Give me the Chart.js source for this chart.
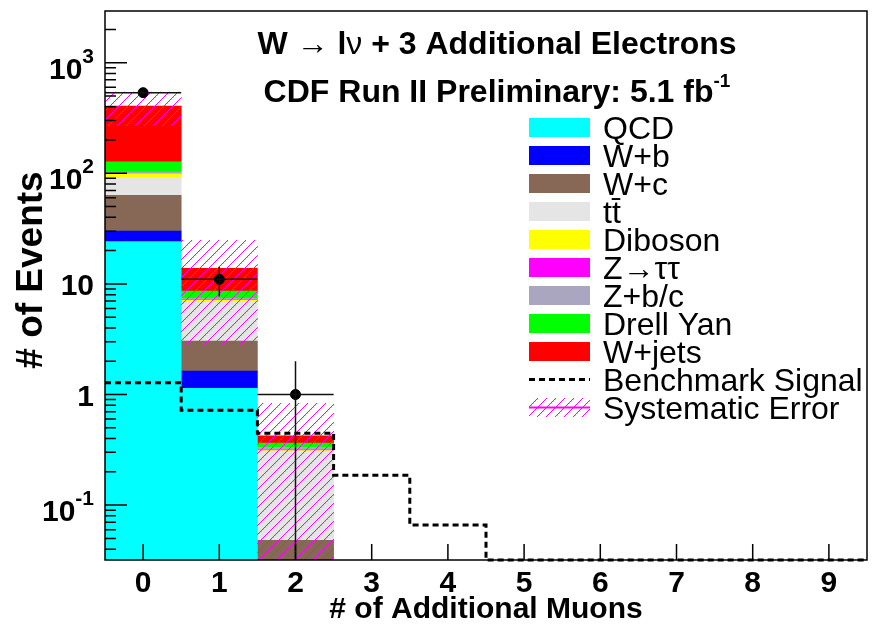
<!DOCTYPE html>
<html>
<head>
<meta charset="utf-8">
<script src="https://cdn.jsdelivr.net/npm/chart.js@4.4.1/dist/chart.umd.min.js"></script>
<style>
  html, body { margin: 0; padding: 0; background: #fff; }
  #wrap { width: 873px; height: 628px; }
</style>
</head>
<body>
<div id="wrap"><canvas id="muonChart" width="873" height="628"></canvas></div>
<script>
// bins of the x axis (number of additional muons)
const bins = [0, 1, 2, 3, 4, 5, 6, 7, 8, 9];

// stacked backgrounds, only bins 0..2 are filled
const stackBins = [0, 1, 2];
const qcd      = [24.1, 1.14, 0];
const wPlusB   = [6.0, 0.49, 0];
const wPlusC   = [33.2, 1.41, 0.048];
const ttbar    = [28.0, 3.77, 0.26];
const diboson  = [7.9, 0.29, 0.004];
const zTauTau  = [0.5, 0.05, 0.002];
const zPlusBC  = [3.0, 0.25, 0.018];
const drellYan = [24.6, 1.22, 0.032];
const wJets    = [278.7, 5.21, 0.059];
const systErr  = [136, 11, 0.41];

// benchmark signal (dashed step line)
const benchmark = [1.28, 0.72, 0.446, 0.186, 0.066, 0, 0, 0, 0, 0];

// observed data
const dataBins   = [0, 1, 2];
const dataCounts = [536, 11, 1];
const dataErr    = [23.2, 3.3, 1.0];

// axis ticks: value, base text, exponent text
const yTicks = [0.1, 1, 10, 100, 1000];
const yTickBase = ['10', '1', '10', '10', '10'];
const yTickExp  = ['-1', '', '', '2', '3'];
const yMin = 0.0319, yMax = 2934;

const FONT = '"Liberation Sans", Arial, "DejaVu Sans", sans-serif';

const stackDefs = [
  ['QCD', qcd, '#00ffff'],
  ['W+b', wPlusB, '#0000ff'],
  ['W+c', wPlusC, '#876756'],
  ['tt\u0304', ttbar, '#e5e5e5'],
  ['Diboson', diboson, '#ffff00'],
  ['Z\u2192\u03C4\u03C4', zTauTau, '#ff00ff'],
  ['Z+b/c', zPlusBC, '#aaa6c0'],
  ['Drell Yan', drellYan, '#00ff00'],
  ['W+jets', wJets, '#ff0000']
];

function makeHatch() {
  const c = document.createElement('canvas');
  c.width = 9; c.height = 9;
  const g = c.getContext('2d');
  g.strokeStyle = '#ff00ff';
  g.lineWidth = 1;
  g.beginPath();
  g.moveTo(0, 9); g.lineTo(9, 0);
  g.moveTo(-1, 1); g.lineTo(1, -1);
  g.moveTo(8, 10); g.lineTo(10, 8);
  g.stroke();
  return g.createPattern(c, 'repeat');
}
const hatch = makeHatch();

// totals of the stack, used for the error band
const totals = stackBins.map((b, i) => stackDefs.reduce((s, d) => s + d[1][i], 0));

const datasets = stackDefs.map(([label, vals, color], k) => ({
  type: 'bar',
  label: label,
  data: stackBins.map((b, i) => ({ x: b, y: vals[i] })),
  backgroundColor: color,
  borderWidth: 0,
  barPercentage: 1,
  categoryPercentage: 1,
  stack: 'mc',
  order: 10 + k
}));

datasets.push({
  type: 'bar',
  label: 'Systematic Error',
  data: stackBins.map((b, i) => ({ x: b, y: [totals[i] - systErr[i], totals[i] + systErr[i]] })),
  backgroundColor: hatch,
  borderWidth: 0,
  barPercentage: 1,
  categoryPercentage: 1,
  grouped: false,
  stack: 'err',
  order: 3
});

// empty bins sit on the bottom of the log axis, as in the original plot
datasets.push({
  type: 'line',
  label: 'Benchmark Signal',
  data: bins.map((b, i) => ({ x: b - 0.5, y: Math.max(benchmark[i], yMin) }))
            .concat([{ x: bins[bins.length - 1] + 0.5, y: Math.max(benchmark[benchmark.length - 1], yMin) }]),
  stepped: true,
  borderColor: '#000',
  borderWidth: 3,
  borderDash: [6, 4],
  pointRadius: 0,
  fill: false,
  clip: false,
  order: 2
});

datasets.push({
  type: 'scatter',
  label: 'Data',
  data: dataBins.map((b, i) => ({ x: b, y: dataCounts[i] })),
  pointRadius: 5,
  pointBackgroundColor: '#000',
  pointBorderColor: '#000',
  order: 0
});

function drawRuns(ctx, runs, cx, baseline, align) {
  let w = 0;
  runs.forEach(r => { ctx.font = r.font; w += ctx.measureText(r.text).width; });
  let px = align === 'right' ? cx - w : cx - w / 2;
  runs.forEach(r => {
    ctx.font = r.font;
    ctx.fillText(r.text, px, baseline + (r.dy || 0));
    px += ctx.measureText(r.text).width;
  });
}

// error bars, frame, inner ticks, texts and legend
const decorPlugin = {
  id: 'decor',
  afterDatasetsDraw(chart) {
    const { ctx, chartArea: a, scales: { x, y } } = chart;
    ctx.save();
    ctx.beginPath();
    ctx.rect(a.left, a.top, a.right - a.left, a.bottom - a.top);
    ctx.clip();
    ctx.strokeStyle = '#111';
    ctx.lineWidth = 1.5;
    dataBins.forEach((b, i) => {
      const py = y.getPixelForValue(dataCounts[i]);
      const lo = dataCounts[i] - dataErr[i];
      ctx.beginPath();
      ctx.moveTo(x.getPixelForValue(b - 0.5), py);
      ctx.lineTo(x.getPixelForValue(b + 0.5), py);
      ctx.moveTo(x.getPixelForValue(b), y.getPixelForValue(dataCounts[i] + dataErr[i]));
      ctx.lineTo(x.getPixelForValue(b), lo > 0 ? y.getPixelForValue(lo) : a.bottom);
      ctx.stroke();
    });
    ctx.restore();
  },
  afterDraw(chart) {
    const { ctx, chartArea: a, scales: { x, y } } = chart;
    ctx.save();
    // ticks on the inside of the frame
    ctx.strokeStyle = '#000';
    ctx.lineWidth = 1.5;
    ctx.beginPath();
    for (let d = -2; d <= 3; d++) {
      for (let m = 1; m <= 9; m++) {
        const v = m * Math.pow(10, d);
        if (v < yMin || v > yMax) continue;
        const py = y.getPixelForValue(v);
        ctx.moveTo(a.left, py);
        ctx.lineTo(a.left + (m === 1 ? 22 : 11), py);
      }
    }
    bins.forEach(b => {
      const px = x.getPixelForValue(b);
      ctx.moveTo(px, a.bottom);
      ctx.lineTo(px, a.bottom - 16);
    });
    ctx.stroke();
    ctx.strokeRect(a.left, a.top, a.right - a.left, a.bottom - a.top);

    ctx.fillStyle = '#000';
    ctx.textBaseline = 'alphabetic';
    ctx.textAlign = 'left';

    // y tick labels with raised exponents
    yTicks.forEach((v, i) => {
      const py = y.getPixelForValue(v);
      const hasExp = yTickExp[i] !== '';
      const runs = [{ text: yTickBase[i], font: 'bold 30px ' + FONT }];
      if (hasExp) runs.push({ text: yTickExp[i], font: 'bold 21px ' + FONT, dy: -16 });
      drawRuns(ctx, runs, 94, py + (hasExp ? 16 : 11), 'right');
    });

    // y axis title
    ctx.save();
    ctx.translate(42, 270);
    ctx.rotate(-Math.PI / 2);
    ctx.textAlign = 'center';
    ctx.font = 'bold 37px ' + FONT;
    ctx.fillText('# of Events', 0, 0);
    ctx.restore();

    // title
    const bold = 'bold 32px ' + FONT;
    const plain = '32px ' + FONT;
    drawRuns(ctx, [
      { text: 'W ', font: bold },
      { text: '\u2192', font: plain },
      { text: ' l', font: bold },
      { text: '\u03BD', font: plain },
      { text: ' + 3 Additional Electrons', font: bold }
    ], 497, 54);
    drawRuns(ctx, [
      { text: 'CDF Run II Preliminary: 5.1 fb', font: bold },
      { text: '-1', font: 'bold 19px ' + FONT, dy: -15 }
    ], 497, 102);

    // legend
    const items = stackDefs.map(d => ({ label: d[0], color: d[2] }));
    items.push({ label: 'Benchmark Signal', kind: 'dash' });
    items.push({ label: 'Systematic Error', kind: 'hatch' });
    items.forEach((it, k) => {
      const cy = 127.5 + 28 * k;
      if (it.kind === 'dash') {
        ctx.save();
        ctx.strokeStyle = '#000';
        ctx.lineWidth = 3;
        ctx.setLineDash([6, 4]);
        ctx.beginPath();
        ctx.moveTo(529, cy); ctx.lineTo(590, cy);
        ctx.stroke();
        ctx.restore();
      } else if (it.kind === 'hatch') {
        ctx.fillStyle = hatch;
        ctx.fillRect(529, cy - 9.5, 61, 19);
        ctx.strokeStyle = '#ff00ff';
        ctx.lineWidth = 2;
        ctx.beginPath();
        ctx.moveTo(529, cy); ctx.lineTo(590, cy);
        ctx.stroke();
      } else {
        ctx.fillStyle = it.color;
        ctx.fillRect(529, cy - 9.5, 61, 19);
      }
      ctx.fillStyle = '#000';
      ctx.font = '32px ' + FONT;
      ctx.fillText(it.label, 603, cy + 11.5);
    });
    ctx.restore();
  }
};

new Chart(document.getElementById('muonChart'), {
  type: 'bar',
  data: { datasets: datasets },
  plugins: [decorPlugin],
  options: {
    responsive: false,
    animation: false,
    layout: { padding: { top: 11, right: 5, left: 0, bottom: 0 } },
    plugins: { legend: { display: false }, tooltip: { enabled: false } },
    scales: {
      x: {
        type: 'linear',
        min: -0.5,
        max: 9.5,
        bounds: 'data',
        offset: false,
        stacked: true,
        grid: { display: false, drawTicks: false, offset: false },
        border: { display: false },
        afterBuildTicks: s => { s.ticks = bins.map(v => ({ value: v })); },
        afterFit: s => { s.height = 68; s.paddingLeft = 0; s.paddingRight = 0; },
        ticks: {
          padding: 6,
          color: '#000',
          font: { family: FONT, size: 30, weight: 'bold' },
          maxRotation: 0,
          autoSkip: false
        },
        title: {
          display: true,
          text: '# of Additional Muons',
          color: '#000',
          font: { family: FONT, size: 30, weight: 'bold' },
          padding: { top: 0, bottom: 0 }
        }
      },
      y: {
        type: 'logarithmic',
        min: yMin,
        max: yMax,
        bounds: 'data',
        stacked: true,
        grid: { display: false, drawTicks: false },
        border: { display: false },
        afterBuildTicks: s => { s.ticks = yTicks.map(v => ({ value: v })); },
        afterFit: s => { s.width = 105; s.paddingTop = 0; s.paddingBottom = 0; },
        ticks: { display: false }
      }
    }
  }
});
</script>
</body>
</html>
